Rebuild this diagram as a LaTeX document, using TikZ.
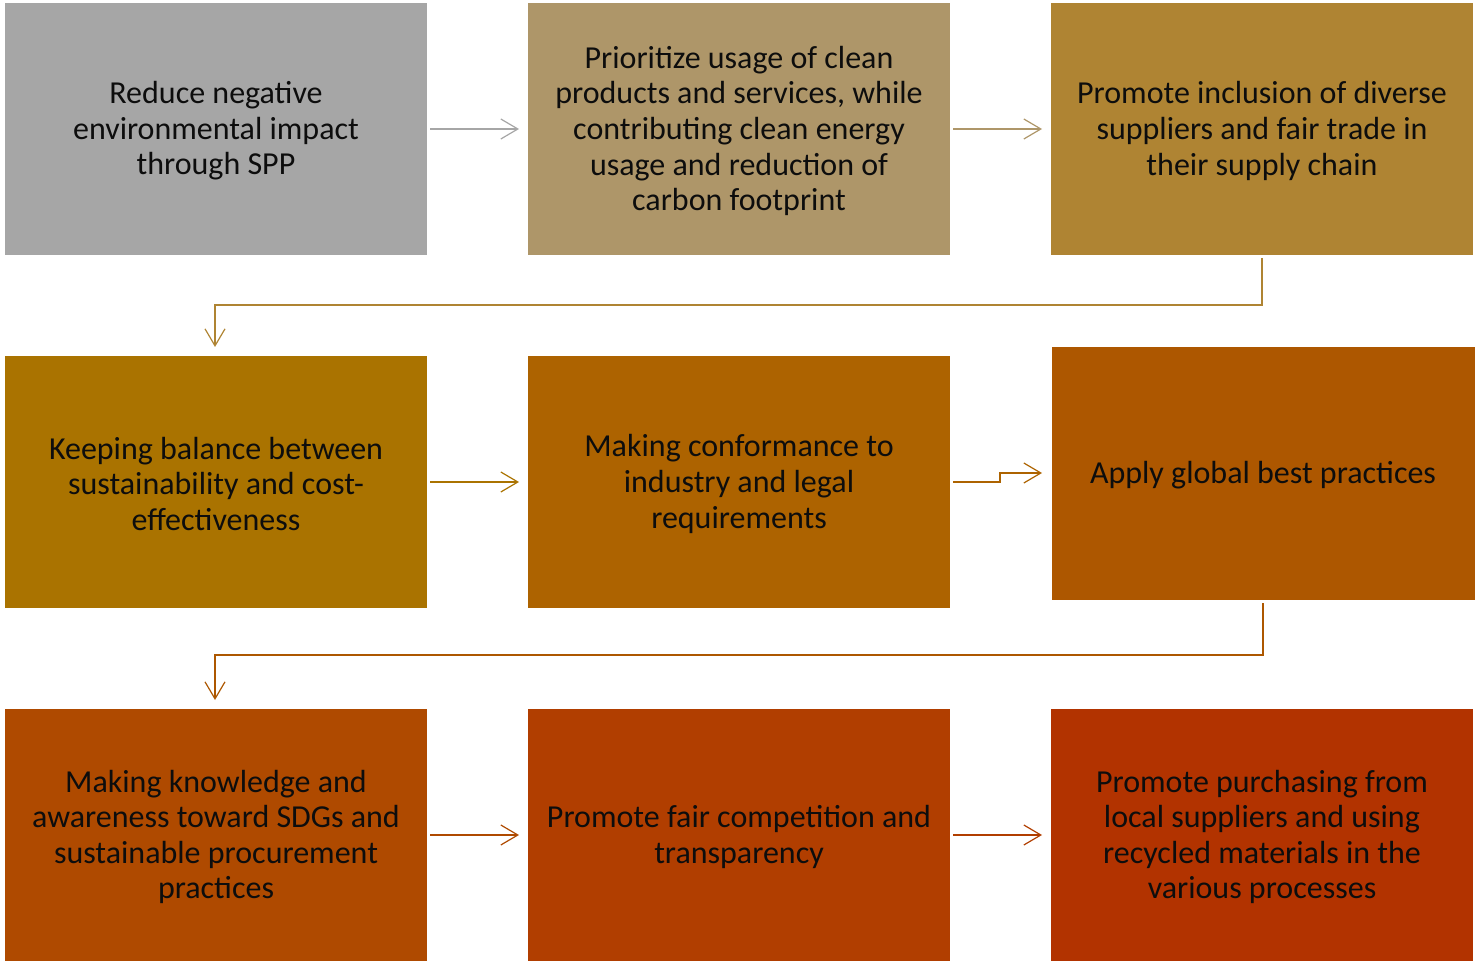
\documentclass[tikz,border=0pt]{standalone}
\usepackage{fontspec}
\setmainfont{Carlito}
\usetikzlibrary{arrows.meta}
\definecolor{cA}{HTML}{A6A6A6}
\definecolor{cB}{HTML}{AE9669}
\definecolor{cC}{HTML}{AF8433}
\definecolor{cD}{HTML}{AA7300}
\definecolor{cE}{HTML}{AD6300}
\definecolor{cF}{HTML}{AD5700}
\definecolor{cG}{HTML}{AF4A00}
\definecolor{cH}{HTML}{B13E00}
\definecolor{cI}{HTML}{B23300}
\definecolor{txt}{HTML}{0D0D0D}
\tikzset{
  box/.style={fill=none, draw=none, text=txt, align=center, inner sep=0pt,
    font=\fontsize{16pt}{17.8pt}\selectfont},
  conn/.style={draw=#1, line width=0.6pt, -{Straight Barb[length=8.5pt,width=10pt,line width=0.6pt]}},
}
\begin{document}
\begin{tikzpicture}[x=0.5pt,y=-0.5pt]
\useasboundingbox (0,0) rectangle (1483,962);
% boxes
\fill[cA] (5,3) rectangle (427,255);
\node[box] (b1) at (216,131) {Reduce negative\\environmental impact\\through SPP};
\fill[cB] (528,3) rectangle (950,255);
\node[box] (b2) at (739,131) {Prioritize usage of clean\\products and services, while\\contributing clean energy\\usage and reduction of\\carbon footprint};
\fill[cC] (1051,3) rectangle (1473,255);
\node[box] (b3) at (1262,131) {Promote inclusion of diverse\\suppliers and fair trade in\\their supply chain};
\fill[cD] (5,356) rectangle (427,608);
\node[box] (b4) at (216,484) {Keeping balance between\\sustainability and cost-\\effectiveness};
\fill[cE] (528,356) rectangle (950,608);
\node[box] (b5) at (739,484) {Making conformance to\\industry and legal\\requirements};
\fill[cF] (1052,347) rectangle (1475,600);
\node[box] (b6) at (1263,475) {Apply global best practices};
\fill[cG] (5,709) rectangle (427,961);
\node[box] (b7) at (216,837) {Making knowledge and\\awareness toward SDGs and\\sustainable procurement\\practices};
\fill[cH] (528,709) rectangle (950,961);
\node[box] (b8) at (739,837) {Promote fair competition and\\transparency};
\fill[cI] (1051,709) rectangle (1473,961);
\node[box] (b9) at (1262,837) {Promote purchasing from\\local suppliers and using\\recycled materials in the\\various processes};
% anchor coordinates
\coordinate (b1e) at (430,129); \coordinate (b2w) at (519,129);
\coordinate (b2e) at (953,129); \coordinate (b3w) at (1042,129);
\coordinate (b3s) at (1262,258); \coordinate (b4n) at (215,347);
\coordinate (b4e) at (430,482); \coordinate (b5w) at (519,482);
\coordinate (b5e) at (953,482); \coordinate (b6w) at (1042,473);
\coordinate (b6s) at (1263,603); \coordinate (b7n) at (215,700);
\coordinate (b7e) at (430,835); \coordinate (b8w) at (519,835);
\coordinate (b8e) at (953,835); \coordinate (b9w) at (1042,835);
% connectors
\draw[conn=cA] (b1e) -- (b2w);
\draw[conn=cB] (b2e) -- (b3w);
\draw[conn=cC] (b3s) |- (738,305) -| (b4n);
\draw[conn=cD] (b4e) -- (b5w);
\draw[conn=cE] (b5e) -- (1000,482) -- (1000,473) -- (b6w);
\draw[conn=cF] (b6s) |- (738,655) -| (b7n);
\draw[conn=cG] (b7e) -- (b8w);
\draw[conn=cH] (b8e) -- (b9w);
\end{tikzpicture}
\end{document}
